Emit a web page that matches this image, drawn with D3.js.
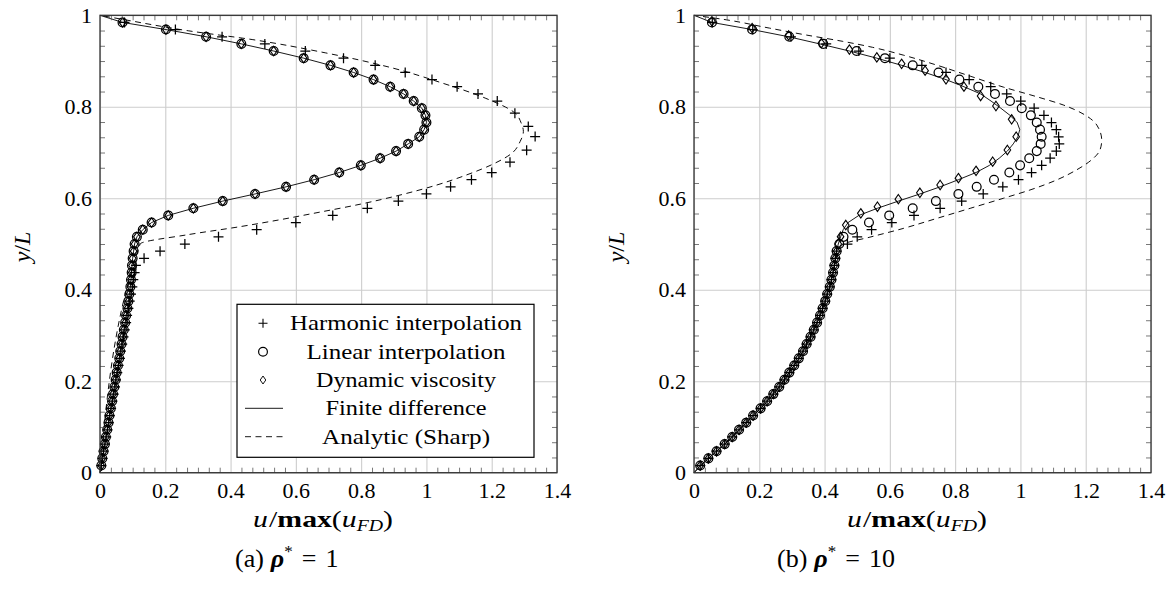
<!DOCTYPE html>
<html>
<head>
<meta charset="utf-8">
<script src="https://cdn.jsdelivr.net/npm/d3@7"></script>
<style>
  body { margin: 0; background: #fff; }
  svg text { font-family: "Liberation Serif", "Times New Roman", serif; fill: #000; }
</style>
</head>
<body>
<svg id="fig" width="1173" height="590"></svg>
<script>
// Cell-centre heights y/L at which the interpolation schemes are sampled
const yCells = [0.0156,0.0313,0.0469,0.0625,0.0781,0.0938,0.1094,0.125,0.1406,0.1563,
  0.1719,0.1875,0.2031,0.2188,0.2344,0.25,0.2656,0.2813,0.2969,0.3125,
  0.3281,0.3438,0.3594,0.375,0.3906,0.4063,0.4219,0.4375,0.4531,0.4688,
  0.4844,0.5,0.5156,0.5313,0.5469,0.5625,0.5781,0.5938,0.6094,0.625,
  0.6406,0.6563,0.6719,0.6875,0.7031,0.7188,0.7344,0.75,0.7656,0.7813,
  0.7969,0.8125,0.8281,0.8438,0.8594,0.875,0.8906,0.9063,0.9219,0.9375,
  0.9531,0.9688,0.9844];
// Finite-difference reference includes both walls
const yNodes = [0, ...yCells, 1];

// ---- rho* = 1 ----
// harmonic-interpolation samples (own sampling heights)
const harmonicA = [0.004,0.008,0.011,0.015,0.019,0.023,0.027,0.030,0.034,0.038,
  0.042,0.046,0.049,0.053,0.057,0.061,0.064,0.068,0.072,0.076,
  0.080,0.083,0.087,0.091,0.095,0.099,0.102,0.106,0.110,0.135,
  0.184,0.260,0.363,0.480,0.600,0.713,0.819,0.914,1.000,1.074,
  1.138,1.200,1.256,1.307,1.333,1.312,1.271,1.217,1.158,1.094,
  1.017,0.935,0.843,0.746,0.629,0.505,0.374,0.231,0.075];
const harmonicA_y = [0.0156,0.0313,0.0469,0.0625,0.0781,0.0938,0.1094,0.125,0.1406,0.1563,
  0.1719,0.1875,0.2031,0.2188,0.2344,0.25,0.2656,0.2813,0.2969,0.3125,
  0.3281,0.3438,0.3594,0.375,0.3906,0.4063,0.4219,0.4375,0.4531,0.4688,
  0.4844,0.5,0.5156,0.5313,0.5469,0.5625,0.5781,0.5938,0.6094,0.625,
  0.6406,0.6563,0.679,0.705,0.735,0.757,0.786,0.8125,0.8281,0.8438,
  0.8594,0.875,0.8906,0.9063,0.9219,0.9375,0.9531,0.9688,0.9844];
const linearA = [0.004,0.007,0.011,0.015,0.018,0.022,0.026,0.029,0.033,0.037,
  0.040,0.044,0.048,0.051,0.055,0.059,0.062,0.066,0.069,0.073,
  0.077,0.080,0.084,0.087,0.090,0.093,0.095,0.097,0.098,0.100,
  0.103,0.106,0.113,0.131,0.158,0.209,0.286,0.376,0.475,0.570,
  0.656,0.733,0.799,0.858,0.907,0.944,0.978,0.993,1.000,0.997,
  0.986,0.961,0.930,0.889,0.838,0.777,0.706,0.624,0.532,0.433,
  0.325,0.202,0.069];
const viscA = [0.004,0.007,0.011,0.015,0.018,0.022,0.026,0.029,0.033,0.037,
  0.040,0.044,0.048,0.051,0.055,0.059,0.062,0.066,0.069,0.073,
  0.077,0.080,0.084,0.087,0.090,0.093,0.095,0.097,0.098,0.100,
  0.103,0.106,0.113,0.131,0.158,0.209,0.286,0.376,0.475,0.570,
  0.656,0.733,0.799,0.858,0.907,0.944,0.978,0.993,1.000,0.997,
  0.986,0.961,0.930,0.889,0.838,0.777,0.706,0.624,0.532,0.433,
  0.325,0.202,0.069];
const viscA_y = yCells;
const fdA = [0,0.004,0.007,0.011,0.015,0.018,0.022,0.026,0.029,0.033,0.037,
  0.040,0.044,0.048,0.051,0.055,0.059,0.062,0.066,0.069,0.073,
  0.077,0.080,0.084,0.087,0.090,0.093,0.095,0.097,0.098,0.100,
  0.103,0.106,0.113,0.131,0.158,0.209,0.286,0.376,0.475,0.570,
  0.656,0.733,0.799,0.858,0.907,0.944,0.978,0.993,1.000,0.997,
  0.986,0.961,0.930,0.889,0.838,0.777,0.706,0.624,0.532,0.433,
  0.325,0.202,0.069,0];
const sharpA_u = [0,0.123,0.266,0.430,0.551,0.654,0.797,0.919,1.032,1.123,1.205,1.261,
  1.287,1.297,1.290,1.272,1.180,1.048,0.895,0.690,0.466,0.272,0.078,0];
const sharpA_y = [0,0.5,0.520,0.538,0.553,0.567,0.587,0.607,0.629,0.651,0.675,0.698,
  0.724,0.746,0.765,0.786,0.819,0.852,0.885,0.918,0.947,0.966,0.990,1];

// ---- rho* = 10 ----
const harmonicB = [0.019,0.044,0.069,0.094,0.117,0.138,0.160,0.181,0.204,0.224,
  0.243,0.261,0.277,0.292,0.307,0.321,0.334,0.345,0.357,0.367,
  0.377,0.386,0.394,0.402,0.408,0.416,0.421,0.426,0.430,0.433,
  0.437,0.470,0.500,0.544,0.606,0.674,0.754,0.820,0.886,0.946,
  0.994,1.034,1.065,1.091,1.110,1.119,1.117,1.110,1.095,1.072,
  1.042,1.001,0.958,0.909,0.843,0.772,0.698,0.600,0.505,0.405,
  0.297,0.180,0.056];
const harmonicB_y = yCells;
const linearB = [0.019,0.044,0.069,0.094,0.117,0.138,0.160,0.181,0.204,0.224,
  0.243,0.261,0.277,0.292,0.307,0.321,0.334,0.345,0.357,0.367,
  0.377,0.386,0.394,0.402,0.408,0.416,0.421,0.426,0.430,0.433,
  0.437,0.445,0.458,0.485,0.536,0.598,0.670,0.741,0.810,0.866,
  0.919,0.966,0.999,1.027,1.050,1.062,1.065,1.060,1.050,1.032,
  1.004,0.968,0.922,0.871,0.813,0.749,0.670,0.585,0.498,0.396,
  0.292,0.178,0.055];
// dynamic-viscosity samples (own sampling heights)
const viscB = [0.019,0.044,0.069,0.094,0.117,0.138,0.160,0.181,0.204,0.224,
  0.243,0.261,0.277,0.292,0.307,0.321,0.334,0.345,0.357,0.367,
  0.377,0.386,0.394,0.402,0.408,0.416,0.421,0.426,0.430,0.433,
  0.437,0.442,0.449,0.465,0.511,0.562,0.626,0.692,0.754,0.810,
  0.864,0.915,0.960,0.987,0.973,0.925,0.878,0.827,0.772,0.708,
  0.636,0.560,0.476,0.390,0.290,0.178,0.055];
const viscB_y = [0.0156,0.0313,0.0469,0.0625,0.0781,0.0938,0.1094,0.125,0.1406,0.1563,
  0.1719,0.1875,0.2031,0.2188,0.2344,0.25,0.2656,0.2813,0.2969,0.3125,
  0.3281,0.3438,0.3594,0.375,0.3906,0.4063,0.4219,0.4375,0.4531,0.4688,
  0.4844,0.5,0.516,0.5415,0.567,0.5815,0.598,0.612,0.629,0.644,
  0.660,0.680,0.7055,0.7346,0.7726,0.8017,0.8236,0.844,0.860,0.879,
  0.894,0.908,0.925,0.939,0.956,0.972,0.987];
const fdB = [0,0.019,0.044,0.069,0.094,0.117,0.138,0.160,0.181,0.204,0.224,
  0.243,0.261,0.277,0.292,0.307,0.321,0.334,0.345,0.357,0.367,
  0.377,0.386,0.394,0.402,0.408,0.416,0.421,0.426,0.430,0.433,
  0.437,0.442,0.449,0.457,0.472,0.505,0.562,0.626,0.692,0.754,
  0.810,0.864,0.905,0.935,0.960,0.978,0.992,0.998,0.990,0.968,
  0.940,0.910,0.878,0.827,0.772,0.708,0.636,0.560,0.476,0.385,
  0.290,0.178,0.055,0];
const sharpB_u = [0,0.044,0.094,0.138,0.181,0.224,0.261,0.292,0.321,0.345,0.367,0.386,
  0.402,0.416,0.426,0.436,0.446,0.458,0.539,0.641,0.744,0.846,0.948,1.029,1.111,
  1.172,1.218,1.244,1.249,1.234,1.198,1.131,1.050,0.948,0.846,0.744,0.641,0.547,
  0.456,0.343,0.231,0.100,0];
const sharpB_y = [0,0.031,0.0625,0.094,0.125,0.156,0.1875,0.219,0.25,0.281,0.3125,0.344,
  0.375,0.406,0.4375,0.469,0.49,0.5,0.515,0.534,0.556,0.578,0.600,0.618,0.640,
  0.662,0.684,0.706,0.727,0.760,0.782,0.804,0.822,0.843,0.867,0.891,0.913,0.930,
  0.943,0.957,0.972,0.990,1];

// Axis ticks
const xTicks = [0,0.2,0.4,0.6,0.8,1,1.2,1.4];
const xTickLabels = ["0","0.2","0.4","0.6","0.8","1","1.2","1.4"];
const yTicks = [0,0.2,0.4,0.6,0.8,1];
const yTickLabels = ["0","0.2","0.4","0.6","0.8","1"];

const legendLabels = ["Harmonic interpolation","Linear interpolation","Dynamic viscosity",
  "Finite difference","Analytic (Sharp)"];

const svg = d3.select("#fig");

const PLOT_W = 457, TOP = 15.3, BOTTOM = 472.7;
const plusPath = "M-5,0H5M0,-5V5";
const diamondPath = "M0,-4.7L3.3,0L0,4.7L-3.3,0Z";

function minorValues(majors) {
  const out = [];
  for (let k = 0; k < majors.length - 1; k++) {
    const step = (majors[k + 1] - majors[k]) / 6;
    for (let j = 1; j < 6; j++) out.push(majors[k] + j * step);
  }
  return out;
}

function drawPanel(p) {
  const x = d3.scaleLinear().domain([0, 1.4]).range([p.left, p.left + PLOT_W]);
  const y = d3.scaleLinear().domain([0, 1]).range([BOTTOM, TOP]);
  const g = svg.append("g");

  // major grid
  g.append("g").attr("transform", `translate(0,${BOTTOM})`)
    .call(d3.axisBottom(x).tickValues(xTicks).tickSize(-(BOTTOM - TOP)).tickFormat(""))
    .call(s => { s.select(".domain").remove(); s.selectAll("line").attr("stroke", "#cdcdcd").attr("stroke-width", 1.1); });
  g.append("g").attr("transform", `translate(${p.left},0)`)
    .call(d3.axisLeft(y).tickValues(yTicks).tickSize(-PLOT_W).tickFormat(""))
    .call(s => { s.select(".domain").remove(); s.selectAll("line").attr("stroke", "#cdcdcd").attr("stroke-width", 1.1); });

  // markers
  const pts = (arr, ys) => arr.map((u, i) => [u, ys[i]]);
  g.append("g").selectAll("path").data(pts(p.harmonic, p.harmonicY)).join("path")
    .attr("d", plusPath).attr("transform", d => `translate(${x(d[0])},${y(d[1])})`)
    .attr("fill", "none").attr("stroke", "#000").attr("stroke-width", 1.25);
  g.append("g").selectAll("circle").data(pts(p.linear, yCells)).join("circle")
    .attr("cx", d => x(d[0])).attr("cy", d => y(d[1])).attr("r", 4.4)
    .attr("fill", "none").attr("stroke", "#000").attr("stroke-width", 1.25);
  g.append("g").selectAll("path").data(pts(p.visc, p.viscY)).join("path")
    .attr("d", diamondPath).attr("transform", d => `translate(${x(d[0])},${y(d[1])})`)
    .attr("fill", "none").attr("stroke", "#000").attr("stroke-width", 1.1);

  // finite difference and analytic profiles
  const fdLine = d3.line().x(d => x(d[0])).y(d => y(d[1]));
  g.append("path").datum(p.fd.map((u, i) => [u, yNodes[i]]))
    .attr("d", fdLine).attr("fill", "none").attr("stroke", "#000").attr("stroke-width", 0.9);
  const sharpLine = d3.line().x(d => x(d[0])).y(d => y(d[1])).curve(d3.curveMonotoneY);
  g.append("path").datum(p.sharpU.map((u, i) => [u, p.sharpY[i]]))
    .attr("d", sharpLine).attr("fill", "none").attr("stroke", "#000")
    .attr("stroke-width", 0.95).attr("stroke-dasharray", "6,4.5");

  // minor ticks on all four sides, pointing inward
  const mx = minorValues(xTicks), my = minorValues(yTicks);
  const tickStyle = s => { s.select(".domain").remove(); s.selectAll("line").attr("stroke", "#555").attr("stroke-width", 0.8); };
  g.append("g").attr("transform", `translate(0,${BOTTOM})`).call(d3.axisBottom(x).tickValues(mx).tickSize(-5).tickFormat("")).call(tickStyle);
  g.append("g").attr("transform", `translate(0,${TOP})`).call(d3.axisTop(x).tickValues(mx).tickSize(-5).tickFormat("")).call(tickStyle);
  g.append("g").attr("transform", `translate(${p.left},0)`).call(d3.axisLeft(y).tickValues(my).tickSize(-5).tickFormat("")).call(tickStyle);
  g.append("g").attr("transform", `translate(${p.left + PLOT_W},0)`).call(d3.axisRight(y).tickValues(my).tickSize(-5).tickFormat("")).call(tickStyle);

  // frame
  g.append("rect").attr("x", p.left).attr("y", TOP).attr("width", PLOT_W).attr("height", BOTTOM - TOP)
    .attr("fill", "none").attr("stroke", "#333").attr("stroke-width", 1.3);

  // tick labels
  g.append("g").attr("transform", `translate(0,${BOTTOM})`)
    .call(d3.axisBottom(x).tickValues(xTicks).tickSize(0).tickPadding(10).tickFormat((d, i) => xTickLabels[i]))
    .call(s => { s.select(".domain").remove(); s.selectAll("text").attr("font-size", 22).attr("fill", "#000").attr("dy", "0.71em"); });
  g.append("g").attr("transform", `translate(${p.left},0)`)
    .call(d3.axisLeft(y).tickValues(yTicks).tickSize(0).tickPadding(8).tickFormat((d, i) => yTickLabels[i]))
    .call(s => { s.select(".domain").remove(); s.selectAll("text").attr("font-size", 22).attr("fill", "#000"); });

  // y label
  const yl = svg.append("text").attr("transform", `translate(${p.left - 70},247) rotate(-90)`)
    .attr("text-anchor", "middle").attr("font-size", 24);
  yl.append("tspan").attr("font-style", "italic").text("y");
  yl.append("tspan").text("/");
  yl.append("tspan").attr("font-style", "italic").text("L");

  // x label
  const xl = svg.append("text").attr("x", p.left + 153).attr("y", 527).attr("font-size", 24)
    .attr("textLength", 140).attr("lengthAdjust", "spacingAndGlyphs");
  xl.append("tspan").attr("font-style", "italic").text("u");
  xl.append("tspan").attr("dx", 1).text("/");
  xl.append("tspan").attr("font-weight", "bold").text("max");
  xl.append("tspan").text("(");
  xl.append("tspan").attr("font-style", "italic").text("u");
  xl.append("tspan").attr("font-style", "italic").attr("font-size", 16).attr("dy", 4).text("FD");
  xl.append("tspan").attr("dy", -4).text(")");

  // caption
  const cap = svg.append("text").attr("x", p.capX).attr("y", 567).attr("font-size", 26);
  cap.append("tspan").text(p.tag);
  cap.append("tspan").attr("dx", 7).attr("font-style", "italic").attr("font-weight", "bold").text("ρ");
  cap.append("tspan").attr("font-size", 17).attr("dy", -10).text("*");
  cap.append("tspan").attr("dy", 10).attr("dx", 9).text("=");
  cap.append("tspan").attr("dx", 9).text(p.rho);
}

drawPanel({ left: 100, harmonic: harmonicA, harmonicY: harmonicA_y, linear: linearA,
  visc: viscA, viscY: viscA_y, fd: fdA, sharpU: sharpA_u, sharpY: sharpA_y,
  capX: 235, tag: "(a)", rho: "1" });
drawPanel({ left: 694, harmonic: harmonicB, harmonicY: harmonicB_y, linear: linearB,
  visc: viscB, viscY: viscB_y, fd: fdB, sharpU: sharpB_u, sharpY: sharpB_y,
  capX: 777, tag: "(b)", rho: "10" });

// legend (left panel)
const lg = svg.append("g");
lg.append("rect").attr("x", 237).attr("y", 304.3).attr("width", 297).attr("height", 153)
  .attr("fill", "#fff").attr("stroke", "#000").attr("stroke-width", 1.2);
const rowY = [323.3, 351.7, 380, 408.3, 436.7];
const textW = [232, 199, 180, 161, 168];
lg.append("path").attr("d", plusPath).attr("transform", `translate(263,${rowY[0]}) scale(0.9)`)
  .attr("fill", "none").attr("stroke", "#000").attr("stroke-width", 1.2);
lg.append("circle").attr("cx", 263).attr("cy", rowY[1]).attr("r", 4.4)
  .attr("fill", "none").attr("stroke", "#000").attr("stroke-width", 1.2);
lg.append("path").attr("d", diamondPath).attr("transform", `translate(263,${rowY[2]}) scale(0.85)`)
  .attr("fill", "none").attr("stroke", "#000").attr("stroke-width", 1.1);
lg.append("line").attr("x1", 245).attr("x2", 283).attr("y1", rowY[3]).attr("y2", rowY[3])
  .attr("stroke", "#000").attr("stroke-width", 0.9);
lg.append("line").attr("x1", 245).attr("x2", 283).attr("y1", rowY[4]).attr("y2", rowY[4])
  .attr("stroke", "#000").attr("stroke-width", 0.9).attr("stroke-dasharray", "6,4.5");
lg.selectAll("text.lab").data(legendLabels).join("text").attr("class", "lab")
  .attr("x", 406).attr("y", (d, i) => rowY[i] + 7).attr("text-anchor", "middle")
  .attr("font-size", 21).attr("textLength", (d, i) => textW[i]).attr("lengthAdjust", "spacingAndGlyphs")
  .text(d => d);
</script>
</body>
</html>
